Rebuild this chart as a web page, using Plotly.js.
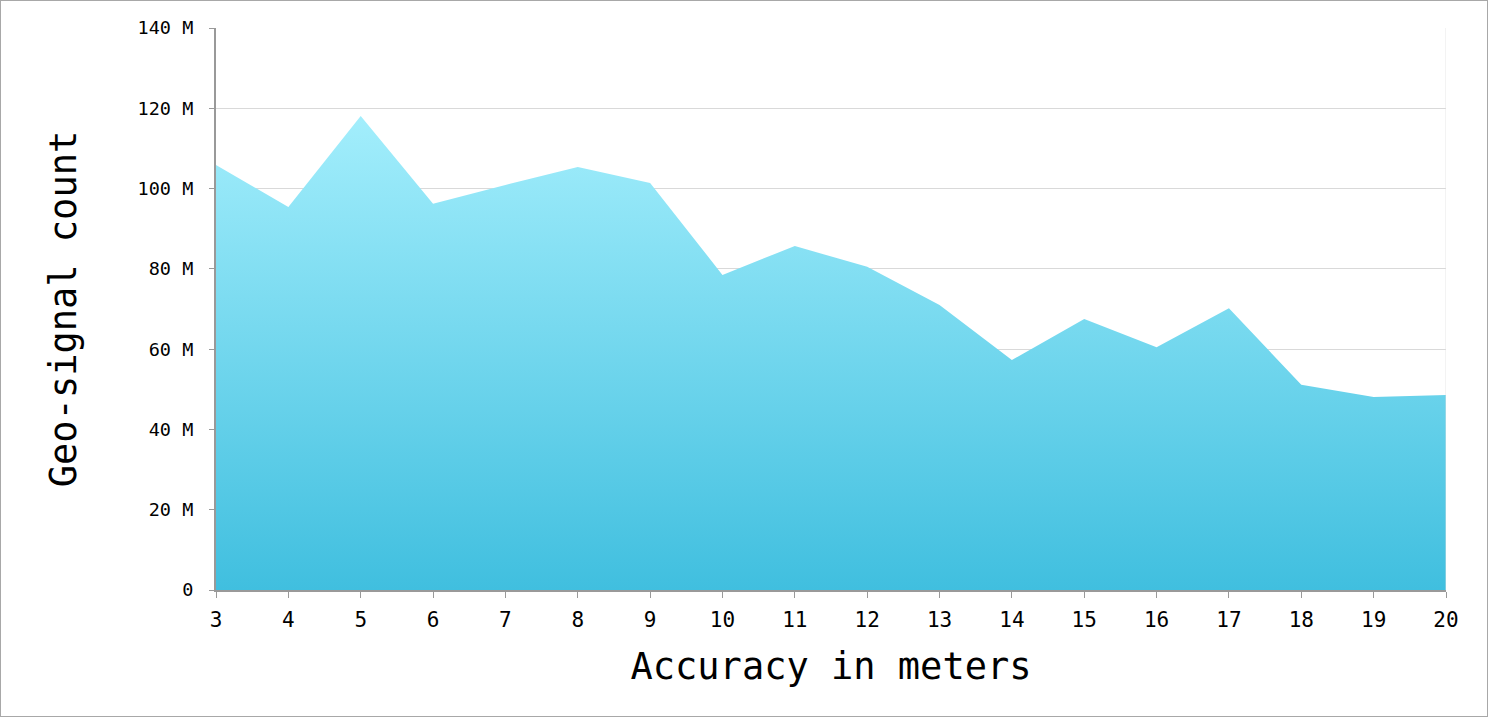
<!DOCTYPE html>
<html>
<head>
<meta charset="utf-8">
<script src="https://cdn.plot.ly/plotly-3.0.1.min.js"></script>
<style>
  html, body { margin: 0; padding: 0; background: #fff; }
  #wrap { width: 1488px; height: 717px; box-sizing: border-box; border: 1px solid #a8a8a8; position: relative; }
  #chart { position: absolute; left: -1px; top: -1px; width: 1488px; height: 717px; }
</style>
</head>
<body>
<div id="wrap"><div id="chart"></div></div>
<script>
// Accuracy in meters (x) and geo-signal count in millions (y)
const accuracy = [3, 4, 5, 6, 7, 8, 9, 10, 11, 12, 13, 14, 15, 16, 17, 18, 19, 20];
const signalCountM = [105.9, 95.4, 118.1, 96.2, 100.9, 105.4, 101.4, 78.5, 85.7, 80.5, 71.0, 57.3, 67.5, 60.5, 70.2, 51.1, 48.1, 48.6];
const yTickVals = [0, 20, 40, 60, 80, 100, 120, 140];
const yTickText = ['0', '20 M', '40 M', '60 M', '80 M', '100 M', '120 M', '140 M'];

const font = 'DejaVu Sans Mono, monospace';

const trace = {
  x: accuracy,
  y: signalCountM,
  type: 'scatter',
  mode: 'lines',
  fill: 'tozeroy',
  line: { width: 0, color: 'rgba(0,0,0,0)' },
  fillgradient: {
    type: 'vertical',
    start: 0,
    stop: 118,
    colorscale: [[0, '#40bfdf'], [1, '#a3eefc']]
  },
  hoverinfo: 'x+y'
};

const layout = {
  width: 1488,
  height: 717,
  margin: { l: 216, r: 42, t: 28, b: 127 },
  paper_bgcolor: 'rgba(0,0,0,0)',
  plot_bgcolor: '#fff',
  showlegend: false,
  font: { family: font, color: '#000' },
  xaxis: {
    range: [3, 20],
    tickvals: accuracy,
    ticktext: accuracy.map(String),
    ticks: 'outside',
    ticklen: 6,
    tickcolor: '#999',
    tickwidth: 1,
    showline: true,
    linecolor: '#999',
    linewidth: 2,
    showgrid: false,
    zeroline: false,
    ticklabelstandoff: 4,
    tickfont: { family: font, size: 21, color: '#000' },
    title: { text: 'Accuracy in meters', font: { family: font, size: 37, color: '#000' }, standoff: 22 }
  },
  yaxis: {
    range: [0, 140],
    tickvals: yTickVals,
    ticktext: yTickText,
    ticks: 'outside',
    ticklen: 5,
    tickcolor: '#999',
    tickwidth: 1,
    showline: true,
    linecolor: '#999',
    linewidth: 2,
    showgrid: true,
    gridcolor: '#d9d9d9',
    gridwidth: 1,
    zeroline: false,
    ticklabelstandoff: 12,
    tickfont: { family: font, size: 18.5, color: '#000' },
    title: { text: 'Geo-signal count', font: { family: font, size: 37, color: '#000' }, standoff: 50 }
  },
  shapes: [
    { type: 'line', xref: 'x', yref: 'paper', x0: 20, x1: 20, y0: 0, y1: 1, line: { color: 'rgba(225,225,225,0.8)', width: 1 }, layer: 'above' }
  ]
};

Plotly.newPlot('chart', [trace], layout, { displayModeBar: false, staticPlot: true });
</script>
</body>
</html>
